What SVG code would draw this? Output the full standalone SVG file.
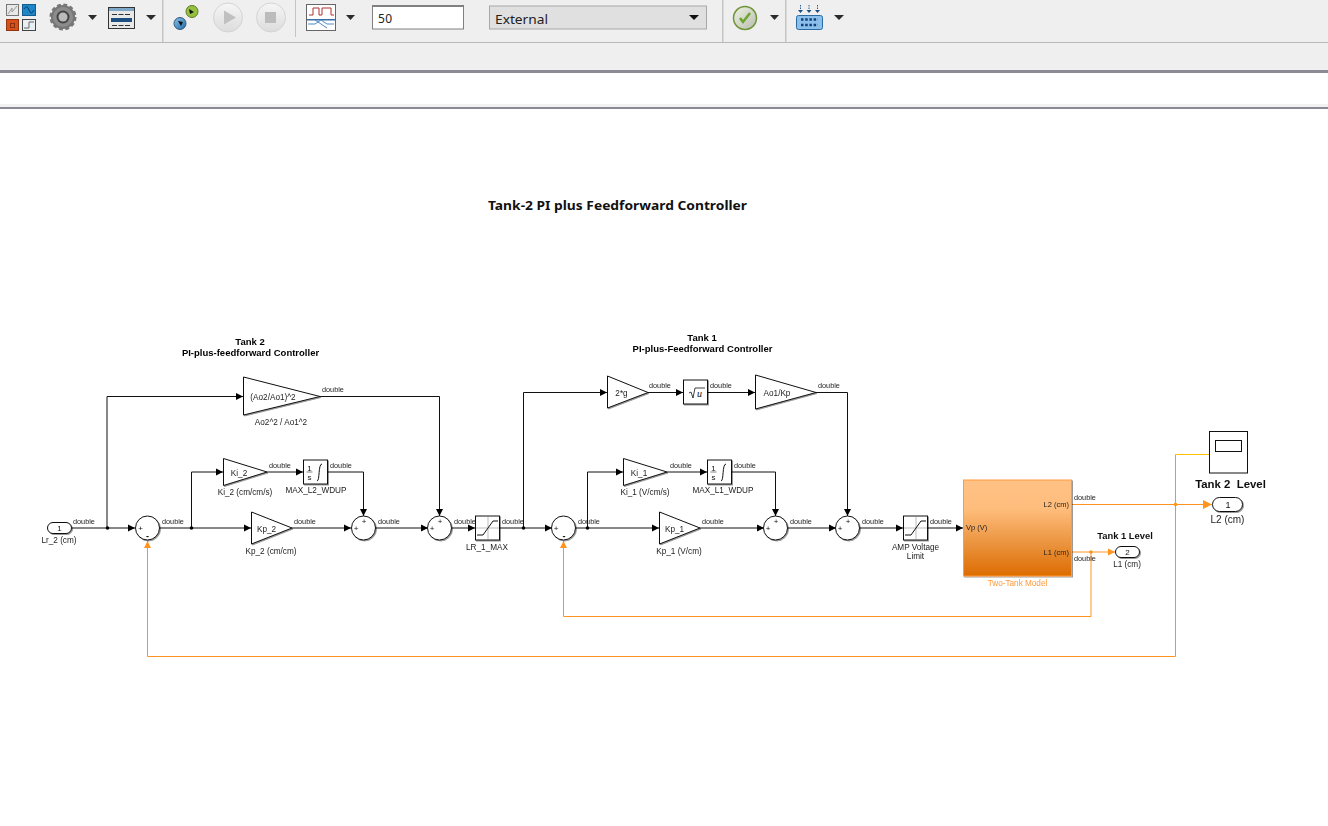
<svg xmlns="http://www.w3.org/2000/svg" width="1328" height="826" viewBox="0 0 1328 826">
<style>
text{font-family:"Liberation Sans",Arial,sans-serif;fill:#222}
.d,.l,.h,.s,.m{filter:url(#bl)}
.d{font-size:7.3px;fill:#222}
.l{font-size:8.2px;text-anchor:middle;fill:#222}
.h{font-size:9.5px;font-weight:bold;text-anchor:middle;fill:#000}
.s{font-size:9.400px;font-weight:bold;text-anchor:middle;fill:#111;white-space:pre}
.w{fill:none;stroke:#111;stroke-width:1;marker-end:url(#a)}
.n{fill:none;stroke:#111;stroke-width:1}
.o{fill:none;stroke:#ff9320;stroke-width:1}
.oa{fill:none;stroke:#ff9320;stroke-width:1;marker-end:url(#b)}
.b{fill:#fff;stroke:#111;stroke-width:1}
.sh{filter:url(#sd)}
.m{font-size:8px;text-anchor:middle;fill:#111}
.tb{fill:#c4c4c4}
.dd{fill:#2b2b2b}
</style>
<defs>
<marker id="a" markerUnits="userSpaceOnUse" markerWidth="8" markerHeight="8" refX="7" refY="4" orient="auto"><path d="M0 .5L7 4L0 7.500z" fill="#000"/></marker>
<marker id="b" markerUnits="userSpaceOnUse" markerWidth="8" markerHeight="8" refX="7" refY="4" orient="auto"><path d="M0 .5L7 4L0 7.500z" fill="#ff9320"/></marker>
<marker id="c" markerUnits="userSpaceOnUse" markerWidth="10" markerHeight="10" refX="9" refY="5" orient="auto"><path d="M0 .5L9 5L0 9.500z" fill="#ff9320"/></marker>
<filter id="sd" x="-20%" y="-20%" width="140%" height="140%"><feDropShadow dx="1" dy="1" stdDeviation=".6" flood-color="#000" flood-opacity=".4"/></filter>
<filter id="bl" x="-5%" y="-20%" width="110%" height="140%"><feGaussianBlur stdDeviation=".3"/></filter>
<linearGradient id="g" x1="0" y1="0" x2="0" y2="1"><stop offset="0" stop-color="#ffc184"/><stop offset=".3" stop-color="#ffbd7c"/><stop offset=".65" stop-color="#eb9540"/><stop offset="1" stop-color="#dd6c00"/></linearGradient>
<linearGradient id="rb" x1="0" y1="0" x2="0" y2="1"><stop offset="0" stop-color="#f6f6f6"/><stop offset="1" stop-color="#dcdcdc"/></linearGradient>
<linearGradient id="ck" x1="0" y1="0" x2="1" y2="1"><stop offset="0" stop-color="#eef2e4"/><stop offset="1" stop-color="#b9bdb0"/></linearGradient>
<linearGradient id="ce" x1="0" y1="0" x2="1" y2="1"><stop offset="0" stop-color="#8fc0e6"/><stop offset="1" stop-color="#1f6aa8"/></linearGradient>
</defs>

<g id="toolbar">
<rect width="1328" height="70" fill="#efefef"/>
<rect y="42" width="1328" height="1" fill="#b9b9b9"/>
<rect y="70" width="1328" height="3" fill="#8a8a94"/>
<rect y="73" width="1328" height="34" fill="#fff"/>
<rect y="104" width="1328" height="3" fill="#f2f2f2"/>
<rect y="107" width="1328" height="2" fill="#8a8a94"/>
<rect class="tb" x="162" y="0" width="1.5" height="42"/><rect class="tb" x="295" y="0" width="1" height="37"/><rect class="tb" x="722" y="0" width="1.5" height="42"/><rect class="tb" x="785" y="0" width="1.5" height="42"/>
<rect x="6.500" y="4.500" width="12" height="11" fill="#e8e8e8" stroke="#777"/><path d="M8 14L12 8V12L17 6" fill="none" stroke="#999"/>
<rect x="22.500" y="4.500" width="13" height="11" fill="#1c86c8" stroke="#135c90"/><path d="M24 9Q27 4 29 10T34 10" fill="none" stroke="#0b3d66"/>
<rect x="6.500" y="19.500" width="12" height="11" fill="#d6501c" stroke="#943510"/><rect x="10.500" y="23.500" width="4" height="4" fill="none" stroke="#8a300e"/>
<rect x="22.500" y="19.500" width="13" height="11" fill="#e8eef2" stroke="#444"/><path d="M24 28H29V22H34" fill="none" stroke="#666"/>
<circle cx="63" cy="17" r="12" fill="#777" stroke="#777" stroke-width="3" stroke-dasharray="3.800 2.480"/><circle cx="63" cy="17" r="10" fill="#8c8c8c"/><circle cx="63" cy="17" r="6.500" fill="#444"/><circle cx="63" cy="17" r="4.500" fill="#bbb"/>
<path class="dd" d="M88 15h9l-4.500 5z"/>
<rect x="108.500" y="7.500" width="26" height="21" fill="#e8e8e8" stroke="#333"/><rect x="109" y="8" width="25" height="3" fill="#7ea6c6"/><path d="M112 14.500h18M112 25.500h18" stroke="#333" stroke-dasharray="5 1.500"/><rect x="111" y="18" width="21" height="4" fill="#1d4f80"/>
<path class="dd" d="M146 15h10l-5 5z"/>
<circle cx="192" cy="11.500" r="6" fill="#96c040" stroke="#5d7a25"/><path d="M189 9l5 3-4 2z" fill="#111"/>
<circle cx="180" cy="23.500" r="6" fill="url(#ce)" stroke="#30597c"/><path d="M178 21l5 1-2 4z" fill="#111"/>
<circle cx="228" cy="17.500" r="14.500" fill="url(#rb)" stroke="#d4d4d4"/><path d="M224 10.500L236 17.500L224 24.500z" fill="#c0c0c0"/>
<circle cx="271" cy="17.500" r="14.500" fill="url(#rb)" stroke="#d4d4d4"/><rect x="265" y="12" width="11" height="11" fill="#bcbcbc"/>
<rect x="306.500" y="4.500" width="29" height="26" fill="#fff" stroke="#666"/><path d="M309 15h4V8h6v7h3V8h9v7h3" fill="none" stroke="#b03030"/><rect x="307" y="19" width="28" height="1.500" fill="#3a6ea8"/><path d="M308 24h7l6-4 6 4h7M315 20l6 4 6 4" fill="none" stroke="#4f8cc4"/>
<path class="dd" d="M346 15h9l-4.500 5z"/>
<rect x="372.500" y="6" width="91" height="23" fill="#fff" stroke="#808080"/>
<rect x="372" y="5" width="92" height="2" fill="#808080"/>
<text x="378" y="23" style="font-family:'Noto Sans',sans-serif;font-size:12px" textLength="14">50</text>
<rect x="489.500" y="6" width="217" height="23" fill="#e0e0e0" stroke="#a8a8a8"/>
<text x="495" y="23.500" style="font-family:'Noto Sans',sans-serif;font-size:13px" textLength="53" lengthAdjust="spacingAndGlyphs">External</text>
<path d="M689 15h10l-5 5z" fill="#111"/>
<circle cx="745" cy="18" r="11.500" fill="url(#ck)" stroke="#6f9438" stroke-width="1.500"/><path d="M740 18l3 4 7-9" fill="none" stroke="#6da52e" stroke-width="2.500"/>
<path class="dd" d="M770 15h9l-4.500 5z"/>
<rect x="796.500" y="15.500" width="26" height="14" rx="2" fill="#8cc0ec" stroke="#2a6aa0"/><path d="M801 19.500h17M801 25h17" stroke="#123f78" stroke-width="2.500" stroke-dasharray="2.500 1.700"/>
<path d="M800.500 5v7M809 5v7M817.500 5v7" stroke="#2a5f90" stroke-dasharray="1.500 1"/><path d="M798 10h5l-2.500 3zM806.500 10h5l-2.500 3zM815 10h5l-2.500 3z" fill="#1a4f85"/>
<path class="dd" d="M834 15h10l-5 5z"/>
</g>

<text x="617.500" y="210" text-anchor="middle" style="font-family:'Noto Sans',sans-serif;font-size:13px;font-weight:bold;fill:#111" textLength="259" lengthAdjust="spacingAndGlyphs">Tank-2 PI plus Feedforward Controller</text>
<text class="h" x="250" y="345">Tank 2</text><text class="h" x="250.500" y="356">PI-plus-feedforward Controller</text>
<text class="h" x="702" y="341">Tank 1</text><text class="h" x="702.500" y="352">PI-plus-Feedforward Controller</text>

<g id="connectors">
<path class="w" d="M72 528H135"/>
<path class="w" d="M107 528V396.500H243"/>
<path class="w" d="M159 528H251"/>
<path class="w" d="M191.500 528V472H223"/>
<path class="w" d="M267 472H303"/>
<path class="w" d="M292 528H351"/>
<path class="w" d="M328 472H363.500V516"/>
<path class="w" d="M320 396.500H439.500V516"/>
<path class="w" d="M375 528H428"/>
<path class="w" d="M452 528H475"/>
<path class="w" d="M500 528H552"/>
<path class="w" d="M523.500 528V392.500H607"/>
<path class="w" d="M576 528H659"/>
<path class="w" d="M587.500 528V472H623"/>
<path class="w" d="M667 472H707"/>
<path class="w" d="M648 392.500H683"/>
<path class="w" d="M708 392.500H755"/>
<path class="w" d="M816 392.500H847.500V516"/>
<path class="w" d="M732 472H775.500V516"/>
<path class="w" d="M700 528H764"/>
<path class="w" d="M788 528H836"/>
<path class="w" d="M860 528H903"/>
<path class="w" d="M928 528H963"/>
<path class="oa" d="M1072 552H1115"/>
<path class="oa" d="M1091 552V616.500H563.500V541"/>
<path d="M1072 504.500H1212" fill="none" stroke="#ff9320" marker-end="url(#c)"/>
<path class="oa" d="M1175.500 504.500V656.500H147.500V541"/>
<path d="M1175.500 504.500V454.500" class="o"/>
<path d="M1175.500 454.500H1209" fill="none" stroke="#ffc000"/>
<circle cx="107.500" cy="528" r="1.800" fill="#000"/><circle cx="191.500" cy="528" r="1.800" fill="#000"/><circle cx="523.500" cy="528" r="1.800" fill="#000"/><circle cx="587.500" cy="528" r="1.800" fill="#000"/>
<circle cx="1091" cy="552" r="1.800" fill="#ff9320"/><circle cx="1175.500" cy="504.500" r="1.800" fill="#ff9320"/>
</g>

<g id="signal-labels">
<text class="d" x="73" y="524">double</text><text class="d" x="162" y="524">double</text><text class="d" x="269" y="468">double</text><text class="d" x="294" y="524">double</text>
<text class="d" x="322" y="392">double</text><text class="d" x="330" y="468">double</text><text class="d" x="378" y="524">double</text><text class="d" x="454" y="524">double</text><text class="d" x="502" y="524">double</text><text class="d" x="578" y="524">double</text>
<text class="d" x="649" y="388">double</text><text class="d" x="710" y="388">double</text><text class="d" x="818" y="388">double</text><text class="d" x="670" y="468">double</text><text class="d" x="734" y="468">double</text><text class="d" x="702" y="524">double</text><text class="d" x="790" y="524">double</text><text class="d" x="862" y="524">double</text><text class="d" x="930" y="524">double</text>
<text class="d" x="1074" y="500">double</text><text class="d" x="1074" y="561">double</text>
</g>

<g id="Lr_2"><rect class="b sh" x="47.500" y="522.500" width="24" height="11" rx="5.500"/><text class="m" x="59.500" y="531">1</text><text class="l" x="59" y="543">Lr_2 (cm)</text></g>

<g id="sum1"><circle class="b sh" cx="147.500" cy="528" r="12"/><text class="m" x="140.500" y="531">+</text><text class="m" x="147.500" y="538.500" style="font-size:9px;font-weight:bold">-</text></g>
<g id="sum2"><circle class="b sh" cx="363.500" cy="528" r="12"/><text class="m" x="356" y="531">+</text><text class="m" x="364" y="524">+</text></g>
<g id="sum3"><circle class="b sh" cx="439.500" cy="528" r="12"/><text class="m" x="432" y="531">+</text><text class="m" x="440" y="524">+</text></g>
<g id="sum4"><circle class="b sh" cx="563.500" cy="528" r="12"/><text class="m" x="556" y="531">+</text><text class="m" x="564" y="538.500" style="font-size:9px;font-weight:bold">-</text></g>
<g id="sum5"><circle class="b sh" cx="775.500" cy="528" r="12"/><text class="m" x="768" y="531">+</text><text class="m" x="776" y="524">+</text></g>
<g id="sum6"><circle class="b sh" cx="847.500" cy="528" r="12"/><text class="m" x="840" y="531">+</text><text class="m" x="848" y="524">+</text></g>

<g id="gain-ao2"><path class="b sh" d="M243.500 377L320 396.500L243.500 415z"/><text class="l" x="273" y="399.500">(Ao2/Ao1)^2</text><text class="l" x="281" y="425">Ao2^2 / Ao1^2</text></g>
<g id="gain-ki2"><path class="b sh" d="M223.500 458.500L267 472L223.500 485.500z"/><text class="l" x="239" y="475.500">Ki_2</text><text class="l" x="245" y="495">Ki_2 (cm/cm/s)</text></g>
<g id="gain-kp2"><path class="b sh" d="M251.500 512L292 528L251.500 544z"/><text class="l" x="266.500" y="531.500">Kp_2</text><text class="l" x="271" y="554">Kp_2 (cm/cm)</text></g>
<g id="int-l2"><rect class="b sh" x="303.500" y="460" width="24" height="24"/><text class="m" x="309.500" y="470.500">1</text><path d="M306.500 472h6" stroke="#333" stroke-width=".6"/><text class="m" x="309.500" y="480">s</text><path d="M317 481c3 0 1-17 5-17" fill="none" stroke="#111"/><text class="l" x="316" y="493">MAX_L2_WDUP</text></g>
<g id="sat-lr"><rect class="b sh" x="475.500" y="516" width="24" height="24"/><path d="M488 517V539M476 528H499" stroke="#bbb"/><path d="M477 535H483L493 521H498" fill="none" stroke="#111"/><text class="l" x="487" y="550">LR_1_MAX</text></g>

<g id="gain-2g"><path class="b sh" d="M607.500 376L648 392.500L607.500 408z"/><text class="l" x="621.500" y="395.500">2*g</text></g>
<g id="sqrt"><rect class="b sh" x="683.500" y="380" width="24" height="24"/><path d="M689 393l2-1 2 6 2-10h10" fill="none" stroke="#111" stroke-width=".8"/><text x="697" y="397" style="font-family:'Liberation Serif',serif;font-style:italic;font-size:10px;fill:#111">u</text></g>
<g id="gain-ao1"><path class="b sh" d="M755.500 375L816 392.500L755.500 409z"/><text class="l" x="777" y="395.500">Ao1/Kp</text></g>
<g id="gain-ki1"><path class="b sh" d="M623.500 458.500L667 472L623.500 485.500z"/><text class="l" x="639" y="475.500">Ki_1</text><text class="l" x="645" y="495">Ki_1 (V/cm/s)</text></g>
<g id="gain-kp1"><path class="b sh" d="M659.500 512L700 528L659.500 544z"/><text class="l" x="674.500" y="531.500">Kp_1</text><text class="l" x="679" y="554">Kp_1 (V/cm)</text></g>
<g id="int-l1"><rect class="b sh" x="707.500" y="460" width="24" height="24"/><text class="m" x="713.500" y="470.500">1</text><path d="M710.500 472h6" stroke="#333" stroke-width=".6"/><text class="m" x="713.500" y="480">s</text><path d="M721 481c3 0 1-17 5-17" fill="none" stroke="#111"/><text class="l" x="723" y="493">MAX_L1_WDUP</text></g>
<g id="sat-amp"><rect class="b sh" x="903.500" y="516" width="24" height="24"/><path d="M916 517V539M904 528H927" stroke="#bbb"/><path d="M905 535H911L921 521H926" fill="none" stroke="#111"/><text class="l" x="915.500" y="550">AMP Voltage</text><text class="l" x="915.500" y="559">Limit</text></g>

<g id="two-tank"><rect x="963.500" y="480" width="108" height="96" fill="url(#g)" stroke="#ff9a3c" class="sh"/><text class="d" x="966" y="530" style="font-size:7.500px">Vp (V)</text><text class="d" x="1069" y="506.500" text-anchor="end" style="font-size:7.500px">L2 (cm)</text><text class="d" x="1069" y="554.500" text-anchor="end" style="font-size:7.500px">L1 (cm)</text><text class="l" x="1017.500" y="586" style="fill:#ff9a3c">Two-Tank Model</text></g>

<g id="scope"><rect x="1209.500" y="431.500" width="38" height="41.500" fill="#fff" stroke="#111"/><rect x="1215.500" y="440.500" width="26" height="11" fill="#fff" stroke="#111"/><text class="s" x="1230.500" y="488" style="font-size:11.400px">Tank 2  Level</text></g>
<g id="L2-out"><rect class="b sh" x="1212.500" y="497.500" width="30" height="14" rx="7"/><text class="m" x="1228" y="508" style="font-size:9px">1</text><text class="l" x="1227.500" y="523" style="font-size:10px">L2 (cm)</text></g>
<g id="L1-out"><rect class="b sh" x="1115.500" y="546.500" width="24" height="11" rx="5.500"/><text class="m" x="1127.500" y="555" style="font-size:8px">2</text><text class="l" x="1127" y="567">L1 (cm)</text><text class="s" x="1125" y="539">Tank 1 Level</text></g>
</svg>
